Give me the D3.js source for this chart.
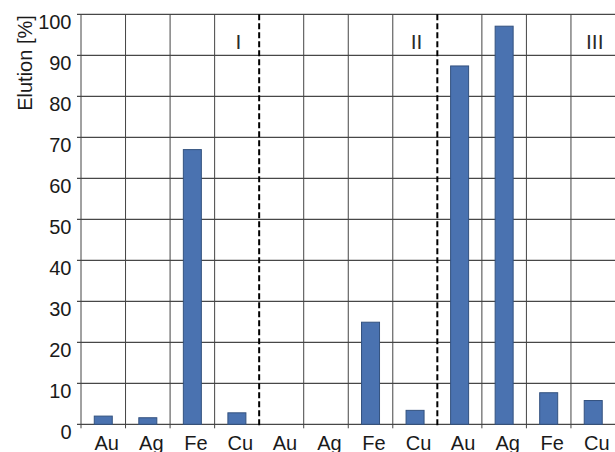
<!DOCTYPE html>
<html>
<head>
<meta charset="utf-8">
<script src="https://cdn.jsdelivr.net/npm/d3@7"></script>
<style>
  html, body { margin: 0; padding: 0; background: #fff; }
  svg { display: block; }
  text { font-family: "Liberation Sans", Arial, sans-serif; }
</style>
</head>
<body>
<script>
const categories = ["Au","Ag","Fe","Cu","Au","Ag","Fe","Cu","Au","Ag","Fe","Cu"];
const groupLabels = ["I","II","III"];
const elution = [2.0, 1.6, 67.0, 2.8, 0, 0, 24.9, 3.4, 87.4, 97.1, 7.7, 5.8];
const yTicks = [0,10,20,30,40,50,60,70,80,90,100];
const yLabel = "Elution [%]";

(function () {
const W = 615, H = 452;
const mLeft = 81, mRight = 615.5, mTop = 14.3, mBottom = 424.3;

const svg = d3.select("body").append("svg").attr("width", W).attr("height", H);

const idx = d3.range(categories.length);
const x = d3.scaleBand().domain(idx).range([mLeft, mRight]).padding(0);
const y = d3.scaleLinear().domain([0, 100]).range([mBottom, mTop]);

// horizontal gridlines
svg.append("g").selectAll("line").data(yTicks).join("line")
  .attr("x1", mLeft - 4).attr("x2", mRight)
  .attr("y1", d => y(d)).attr("y2", d => y(d))
  .attr("stroke", "#1a1a1a").attr("stroke-width", 1);

// vertical band boundaries
const bounds = d3.range(categories.length + 1).map(i => mLeft + i * x.bandwidth());
svg.append("g").selectAll("line").data(bounds.filter((b, i) => i !== 4 && i !== 8)).join("line")
  .attr("x1", d => d).attr("x2", d => d)
  .attr("y1", mTop).attr("y2", mBottom + 4)
  .attr("stroke", "#444").attr("stroke-width", 1);

// dashed group separators
svg.append("g").selectAll("line").data([bounds[4], bounds[8]]).join("line")
  .attr("x1", d => d).attr("x2", d => d)
  .attr("y1", mTop).attr("y2", mBottom + 4)
  .attr("stroke", "#000").attr("stroke-width", 2)
  .attr("stroke-dasharray", "6,3");

// bars
const barW = 18;
svg.append("g").selectAll("rect").data(idx.filter(i => elution[i] > 0)).join("rect")
  .attr("x", i => x(i) + x.bandwidth() / 2 - barW / 2)
  .attr("y", i => y(elution[i]))
  .attr("width", barW)
  .attr("height", i => y(0) - y(elution[i]))
  .attr("fill", "#4a72b0")
  .attr("stroke", "#33527f").attr("stroke-width", 1);

// y tick labels
svg.append("g").selectAll("text").data(yTicks).join("text")
  .attr("x", 71.5).attr("y", d => y(d) + 14.5)
  .attr("text-anchor", "end")
  .attr("font-size", 20).attr("fill", "#1a1a1a")
  .text(d => d);

// x labels
svg.append("g").selectAll("text").data(idx).join("text")
  .attr("x", i => x(i) + x.bandwidth() / 2 + 3.5)
  .attr("y", 449.5)
  .attr("text-anchor", "middle")
  .attr("font-size", 20).attr("fill", "#1a1a1a")
  .text(i => categories[i]);

// group labels (in the last band of each group)
svg.append("g").selectAll("text").data(groupLabels).join("text")
  .attr("x", (d, g) => x(g * 4 + 3) + x.bandwidth() / 2 + 1.5)
  .attr("y", 48.5)
  .attr("text-anchor", "middle")
  .attr("font-size", 21).attr("fill", "#2a2a2a")
  .text(d => d);

// y axis label
svg.append("text")
  .attr("transform", "translate(31.5,63) rotate(-90)")
  .attr("text-anchor", "middle")
  .attr("font-size", 20).attr("fill", "#1a1a1a")
  .text(yLabel);
})();
</script>
</body>
</html>
